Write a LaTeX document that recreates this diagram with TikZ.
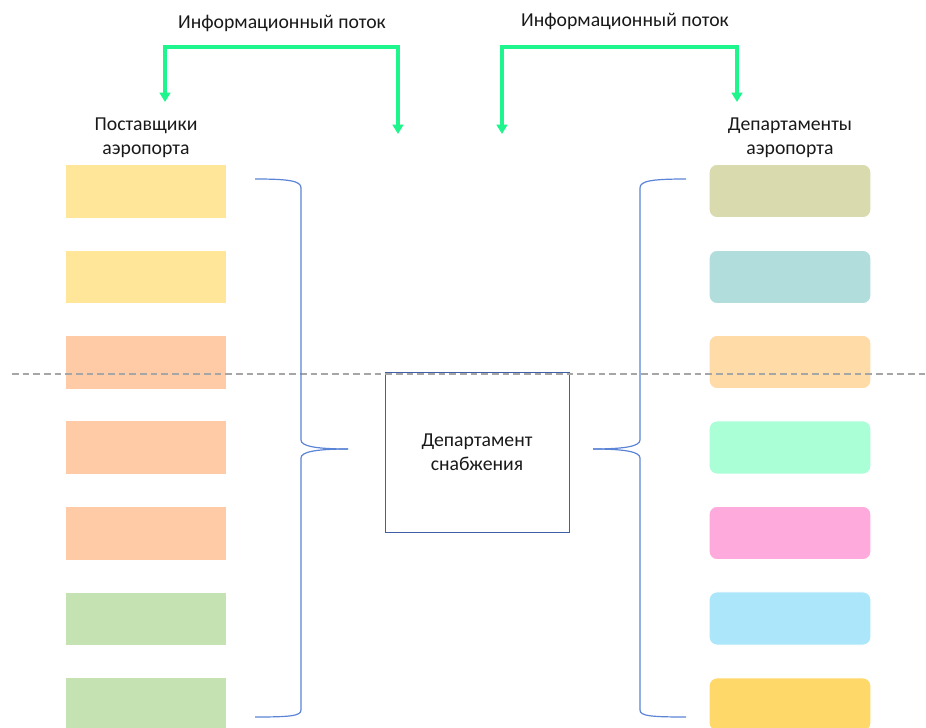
\documentclass[tikz,border=0pt]{standalone}
\usepackage{fontspec}
\setmainfont{Carlito}
\usetikzlibrary{arrows.meta}

\definecolor{flowgreen}{HTML}{1EF58C}
\definecolor{bracecol}{HTML}{5B84D6}
\definecolor{deptframe}{HTML}{3F5FA6}
\definecolor{supyellow}{HTML}{FFE699}
\definecolor{suporange}{HTML}{FFCBA6}
\definecolor{supgreen}{HTML}{C5E2B2}
\definecolor{depolive}{HTML}{D9DBAE}
\definecolor{depteal}{HTML}{B1DDDD}
\definecolor{deporange}{HTML}{FFDBA8}
\definecolor{depmint}{HTML}{AAFFD6}
\definecolor{deppink}{HTML}{FFAADD}
\definecolor{depblue}{HTML}{ABE6FA}
\definecolor{depgold}{HTML}{FFD86A}

\tikzset{
  supbox/.style={rectangle, draw=white, line width=0.8pt, minimum width=121.5pt, minimum height=40pt, inner sep=0pt},
  depbox/.style={rectangle, rounded corners=6pt, draw=white, line width=0.8pt, minimum width=121.5pt, minimum height=40pt, inner sep=0pt},
  flow/.style={draw=flowgreen, line width=2.4pt, -{Triangle[length=7pt,width=8pt]}},
  brace/.style={draw=bracecol, line width=0.9pt},
  lbl/.style={font=\fontsize{14.8}{18.3}\selectfont, text=black!90, align=center, inner sep=0.75pt}
}

\begin{document}
\begin{tikzpicture}[x=0.75pt,y=0.75pt,yscale=-1,xscale=1]
    \useasboundingbox (0,0) rectangle (926,728);
    \clip (0,0) rectangle (926,728);

    % suppliers
    \node [supbox, fill=supyellow] (s1) at (146,191.5) {};
    \node [supbox, fill=supyellow] (s2) at (146,277) {};
    \node [supbox, fill=suporange] (s3) at (146,362.5) {};
    \node [supbox, fill=suporange] (s4) at (146,447.5) {};
    \node [supbox, fill=suporange] (s5) at (146,533.5) {};
    \node [supbox, fill=supgreen] (s6) at (146,619) {};
    \node [supbox, fill=supgreen] (s7) at (146,704.5) {};

    % departments
    \node [depbox, fill=depolive] (d1) at (790,191) {};
    \node [depbox, fill=depteal] (d2) at (790,277) {};
    \node [depbox, fill=deporange] (d3) at (790,362) {};
    \node [depbox, fill=depmint] (d4) at (790,447.5) {};
    \node [depbox, fill=deppink] (d5) at (790,533) {};
    \node [depbox, fill=depblue] (d6) at (790,618.5) {};
    \node [depbox, fill=depgold] (d7) at (790,704.5) {};

    % supply department
    \node [draw=deptframe, line width=0.7pt, minimum width=138pt, minimum height=120pt, lbl] (supply) at (477,452) {Департамент\\снабжения};

    \draw [black!35, line width=0.8pt, dash pattern=on 5pt off 3pt] (12,374) -- (926,374);

    % titles
    \node [lbl] (suptitle) at (146,138) {Поставщики\\аэропорта};
    \node [lbl] (deptitle) at (790,138) {Департаменты\\аэропорта};
    \node [lbl] (flowL) at (282,23) {Информационный поток};
    \node [lbl] (flowR) at (625,21) {Информационный поток};

    % information flows
    \coordinate (fl1) at (165,102);
    \coordinate (fl2) at (398,134);
    \coordinate (fr1) at (502,134);
    \coordinate (fr2) at (737,102);
    \draw [flow] (398,47) -- (165,47) -- (fl1);
    \draw [flow] (165,47) -- (398,47) -- (fl2);
    \draw [flow] (737,47) -- (502,47) -- (fr1);
    \draw [flow] (502,47) -- (737,47) -- (fr2);

    % braces
    \coordinate (tipL) at (348,449);
    \coordinate (tipR) at (593,449);
    \draw [brace] (255,179) .. controls (290,179) and (301,181) .. (301,188) -- (301,440) .. controls (301,446) and (315,449) .. (tipL);
    \draw [brace] (tipL) .. controls (315,449) and (301,452) .. (301,458) -- (301,710) .. controls (301,716) and (290,717) .. (255,717);
    \draw [brace] (686,179) .. controls (651,179) and (640,181) .. (640,188) -- (640,440) .. controls (640,446) and (626,449) .. (tipR);
    \draw [brace] (tipR) .. controls (626,449) and (640,452) .. (640,458) -- (640,710) .. controls (640,716) and (651,717) .. (686,717);
\end{tikzpicture}
\end{document}
